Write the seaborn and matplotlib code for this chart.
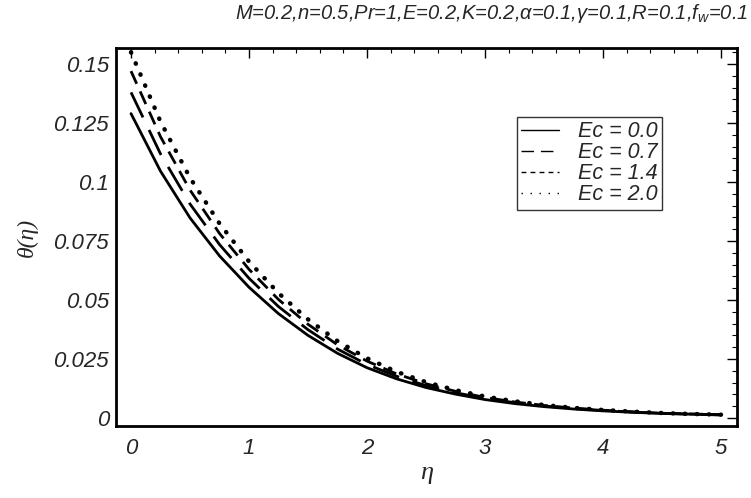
import numpy as np
import pandas as pd
import matplotlib
matplotlib.use("Agg")
import matplotlib.pyplot as plt
from matplotlib.ticker import MultipleLocator, FuncFormatter
import seaborn as sns

sns.set_theme(style="white")
plt.rcParams["font.family"] = ["Liberation Sans", "DejaVu Sans"]
plt.rcParams["mathtext.fontset"] = "custom"
plt.rcParams["mathtext.rm"] = "Liberation Sans:italic"
plt.rcParams["mathtext.it"] = "Liberation Sans:italic"

# valori
eta = [0.0, 0.25, 0.5, 0.75, 1.0, 1.25, 1.5, 1.75, 2.0, 2.25, 2.5,
       2.75, 3.0, 3.25, 3.5, 3.75, 4.0, 4.25, 4.5, 4.75, 5.0]
theta_ec00 = [0.129, 0.1046, 0.0848, 0.0687, 0.0554, 0.0442, 0.0350, 0.0274, 0.0213, 0.0166, 0.0129,
              0.0101, 0.0078, 0.0061, 0.0048, 0.0038, 0.0030, 0.0024, 0.0019, 0.0016, 0.0013]
theta_ec07 = [0.138, 0.1119, 0.0907, 0.0735, 0.0592, 0.0472, 0.0374, 0.0292, 0.0227, 0.0177, 0.0137,
              0.0107, 0.0083, 0.0065, 0.0051, 0.0040, 0.0032, 0.0025, 0.0020, 0.0016, 0.0013]
theta_ec14 = [0.147, 0.1192, 0.0966, 0.0782, 0.0630, 0.0502, 0.0397, 0.0310, 0.0241, 0.0187, 0.0145,
              0.0113, 0.0087, 0.0068, 0.0053, 0.0042, 0.0033, 0.0026, 0.0020, 0.0017, 0.0014]
theta_ec20 = [0.155, 0.1256, 0.1018, 0.0824, 0.0663, 0.0529, 0.0418, 0.0326, 0.0253, 0.0196, 0.0152,
              0.0118, 0.0091, 0.0071, 0.0055, 0.0043, 0.0034, 0.0027, 0.0021, 0.0017, 0.0014]
labels = ["Ec = 0.0", "Ec = 0.7", "Ec = 1.4", "Ec = 2.0"]

series = [theta_ec00, theta_ec07, theta_ec14, theta_ec20]
styles = [
    dict(linestyle="-", linewidth=2.0),
    dict(linestyle=(0, (10, 5)), linewidth=2.0),
    dict(linestyle=(0, (5, 3)), linewidth=2.0),
    dict(linestyle=(0, (0.1, 2.6)), linewidth=3.2, dash_capstyle="round"),
]
# stili piu' sottili per i campioni della legenda
leg_dashes = [None, (9, 5), (3.5, 3), (1, 5.5)]

fig = plt.figure(figsize=(7.51, 4.98), dpi=100)
ax = fig.add_axes([0.1545, 0.1446, 0.8269, 0.759])

for lab, vals, st in zip(labels, series, styles):
    df = pd.DataFrame({"eta": eta, "theta": vals})
    sns.lineplot(data=df, x="eta", y="theta", ax=ax, color="black", label=lab, **st)

ax.set_xlim(-0.127, 5.136)
ax.set_ylim(-0.0034, 0.1568)

ax.xaxis.set_major_locator(MultipleLocator(1))
ax.xaxis.set_minor_locator(MultipleLocator(0.2))
ax.yaxis.set_major_locator(MultipleLocator(0.025))
ax.yaxis.set_minor_locator(MultipleLocator(0.005))
ax.yaxis.set_major_formatter(FuncFormatter(lambda v, p: f"{v:g}"))
ax.tick_params(which="both", direction="in", top=True, right=True, color="black")
ax.tick_params(which="major", length=7, width=1.0, labelsize=16)
ax.tick_params(axis="x", which="major", pad=9)
ax.tick_params(axis="y", which="major", pad=5)
ax.tick_params(which="minor", length=3.5, width=0.8)
for lbl in ax.get_xticklabels() + ax.get_yticklabels():
    lbl.set_fontstyle("italic")

for s in ax.spines.values():
    s.set_color("black")
    s.set_linewidth(2.0)

ax.set_xlabel("η", fontsize=19, family="Liberation Serif", style="italic", labelpad=2)
ax.set_ylabel("θ(η)", fontsize=17, family="Liberation Serif", style="italic", labelpad=11)

fig.text(0.996, 0.972,
         r"M=0.2,n=0.5,Pr=1,E=0.2,K=0.2,$\alpha$=0.1,$\gamma$=0.1,R=0.1,$f_w$=0.1",
         ha="right", va="center", fontsize=14.5, style="italic")

leg = ax.legend(loc="upper left", bbox_to_anchor=(0.6457, 0.8175), frameon=True,
                fancybox=False, edgecolor="black", fontsize=15.5, handlelength=1.75,
                handletextpad=0.9, labelspacing=0.0, borderpad=0.2, borderaxespad=0)
leg.get_frame().set_linewidth(1.0)
for t in leg.get_texts():
    t.set_fontstyle("italic")
for h, d in zip(leg.get_lines(), leg_dashes):
    h.set_linewidth(1.0)
    if d is not None:
        h.set_dashes(d)
        h.set_dash_capstyle("butt")

fig.savefig("out.png", dpi=100)
